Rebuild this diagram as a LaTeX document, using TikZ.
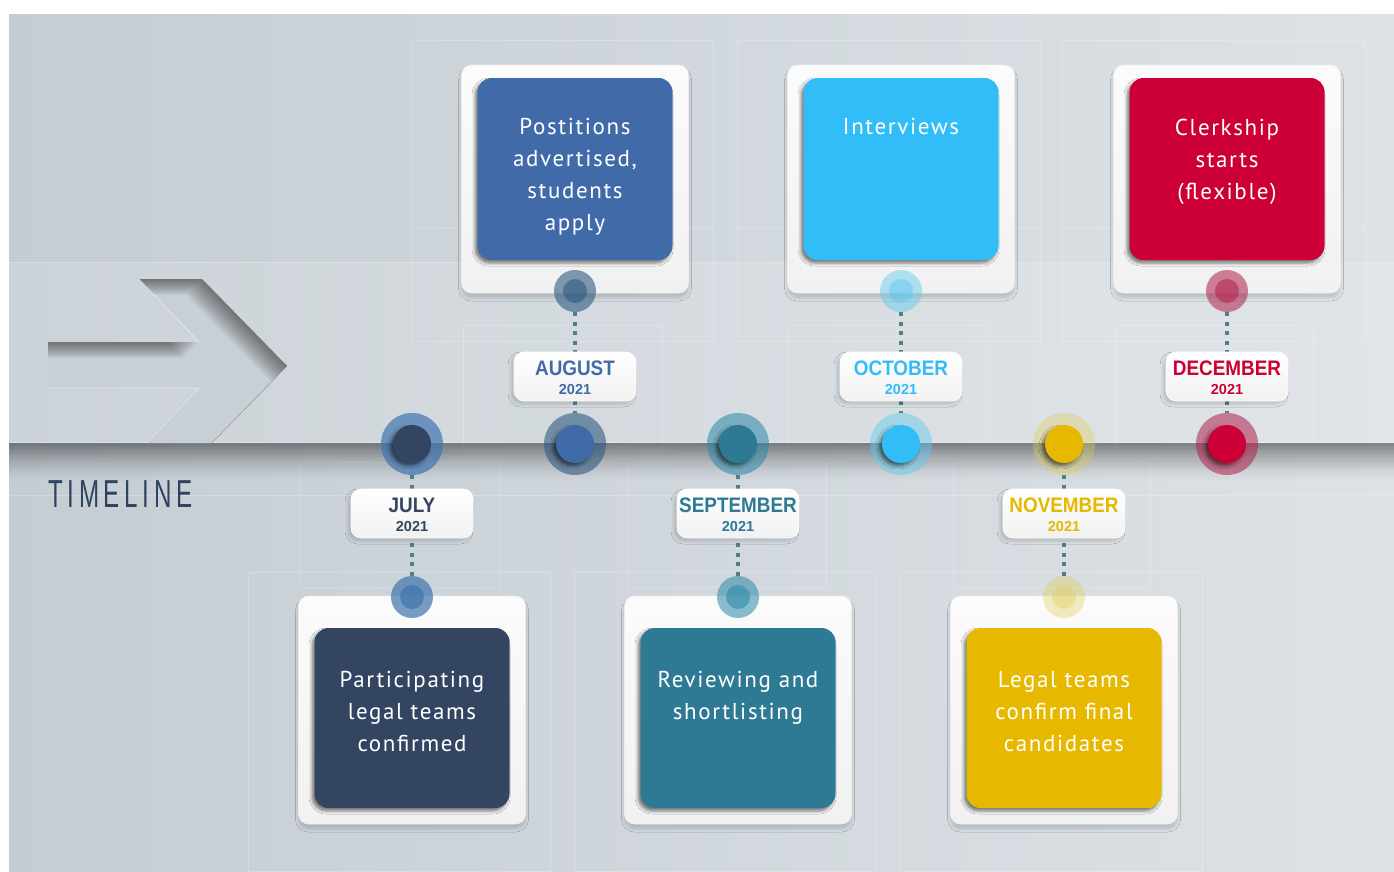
\documentclass[tikz,border=0pt]{standalone}
\usepackage{fontspec}
\setmainfont{PT Sans}
\newfontfamily\cardfont[LetterSpace=7]{PT Sans}
\newfontfamily\monfont[FakeStretch=0.9]{Liberation Sans}
\newfontfamily\yrfont{Liberation Sans}
\newfontfamily\tlfont[FakeStretch=0.62,LetterSpace=12]{Liberation Sans}
\usetikzlibrary{shadows,shadows.blur}
\definecolor{cnavy}{HTML}{334561}
\definecolor{cblue}{HTML}{416BA8}
\definecolor{cteal}{HTML}{2E7A94}
\definecolor{csky}{HTML}{33BDF8}
\definecolor{cyel}{HTML}{E6B800}
\definecolor{cred}{HTML}{CC0036}
\definecolor{rnavy}{HTML}{3F75AE}
\definecolor{rblue}{HTML}{305A80}
\definecolor{rteal}{HTML}{2B88A8}
\definecolor{rsky}{HTML}{5CC8EE}
\definecolor{ryel}{HTML}{E0CC50}
\definecolor{rred}{HTML}{B0204A}
\definecolor{cdot}{HTML}{4F8086}
\definecolor{bgl}{HTML}{C5CDD3}
\definecolor{bgr}{HTML}{DDE2E6}
\definecolor{tlcol}{HTML}{2F4361}
\definecolor{arrfill}{HTML}{C8CFD5}
\tikzset{
  outer/.style={rectangle, rounded corners=10pt, minimum width=227pt, minimum height=228pt, inner sep=0pt,
    top color=white!97!gray, bottom color=white!89!gray, draw=white!86!gray, line width=0.6pt,
    blur shadow={shadow xshift=0pt, shadow yshift=-5pt, shadow blur radius=3pt, shadow opacity=14}},
  innerbox/.style={rectangle, rounded corners=14pt, minimum width=195pt, inner sep=0pt,
    blur shadow={shadow xshift=-2.5pt, shadow yshift=-3pt, shadow blur radius=3pt, shadow opacity=50}},
  cardtxt/.style={anchor=north, align=center, inner sep=0pt, text=white, font=\cardfont\fontsize{23}{32}\selectfont},
  lab/.style={rectangle, rounded corners=10pt, minimum width=122pt, minimum height=49pt, inner sep=0pt,
    top color=white, bottom color=white!89!gray, draw=white, line width=0.6pt,
    blur shadow={shadow xshift=-3pt, shadow yshift=-3pt, shadow blur radius=3pt, shadow opacity=16}},
  dotl/.style={draw=cdot, line width=4pt, dash pattern=on 4pt off 5.5pt},
  guide/.style={draw=white, draw opacity=0.22, line width=0.8pt},
  ringnode/.style={circle, inner sep=0pt},
}
\def\topset{\def\cy{179}\def\iy{169}\def\ih{182}\def\sy{291}\def\ly{376.5}\def\ty{118.5}}
\def\botset{\def\cy{710}\def\iy{718}\def\ih{180}\def\sy{597}\def\ly{513.5}\def\ty{671.5}}
% connectors first, between invisible placeholder nodes of the same sizes
\newcommand\mlinks[2]{%
  \path node[ringnode, minimum size=42pt] (#1sp) at (#2,\sy) {}
        node[rectangle, minimum width=122pt, minimum height=49pt, inner sep=0pt] (#1lp) at (#2,\ly) {}
        node[ringnode, minimum size=62pt] (#1ap) at (#2,444) {};
  \draw[dotl] (#1sp) -- (#1lp);
  \draw[dotl] (#1lp) -- (#1ap);
}
\newcommand\mstone[7]{%
  \node[outer] (#1o) at (#2,\cy) {};
  \node[innerbox, fill=#3, minimum height=\ih pt] (#1i) at (#2,\iy) {};
  \node[cardtxt] (#1t) at (#2,\ty) {#7};
  \node[ringnode, minimum size=42pt, fill=#4, fill opacity=#5] (#1s) at (#2,\sy) {};
  \node[ringnode, minimum size=24pt, fill=#4, fill opacity=#5] (#1ss) at (#2,\sy) {};
  \node[lab] (#1l) at (#2,\ly) {};
  \node[anchor=base, inner sep=0pt, text=#3, font=\monfont\bfseries\fontsize{21}{21}\selectfont] (#1m) at (#2,\ly-1.5) {#6};
  \node[anchor=base, inner sep=0pt, text=#3, font=\yrfont\bfseries\fontsize{14.5}{14.5}\selectfont] (#1y) at (#2,\ly+17.5) {2021};
  \node[ringnode, minimum size=62pt, fill=#4, fill opacity=#5] (#1a) at (#2,444) {};
  \node[ringnode, minimum size=38pt, fill=#3,
    blur shadow={shadow xshift=-3pt, shadow yshift=-3pt, shadow blur radius=3pt, shadow opacity=50}] (#1c) at (#2,444) {};
}
\def\arrowpath{(48,342) -- (199,342) -- (139,279) -- (202,279) -- (287,366) -- (212,443) -- (147,443) -- (199,388) -- (48,388) -- cycle}
\begin{document}
\begin{tikzpicture}[x=1pt,y=-1pt]
\useasboundingbox (0,0) rectangle (1394,871);
\fill[white] (0,0) rectangle (1394,871);
\shade[left color=bgl, right color=bgr] (9,14) rectangle (1394,871);
% faint guide lines
\draw[guide] (9,262) -- (1394,262);
\draw[guide] (411,40) rectangle (713,341);
\draw[guide] (737,40) rectangle (1040,341);
\draw[guide] (1062,40) rectangle (1365,341);
\draw[guide] (411,227) -- (713,227);
\draw[guide] (737,227) -- (1040,227);
\draw[guide] (1062,227) -- (1365,227);
\draw[guide] (463,325) rectangle (662,450);
\draw[guide] (787,325) rectangle (986,450);
\draw[guide] (1115,325) rectangle (1313,450);
\draw[guide] (300,462) rectangle (500,587);
\draw[guide] (627,462) rectangle (826,587);
\draw[guide] (953,462) rectangle (1150,587);
\draw[guide] (248,572) rectangle (550,871);
\draw[guide] (574,572) rectangle (876,871);
\draw[guide] (900,572) rectangle (1202,871);
\draw[guide] (9,495) -- (1394,495);
% axis step and shadow
\fill[white, opacity=0.12] (9,262) rectangle (1394,443);
\foreach \k in {0,...,19} {
  \pgfmathsetmacro\op{0.045*(1-\k/20)}
  \fill[black, opacity=\op] (9,443) rectangle (1394,443+2*\k+2);
}
\draw[white, opacity=0.35, line width=0.8pt] (9,442.5) -- (1394,442.5);
% recessed arrow
\fill[arrfill] \arrowpath;
\begin{scope}
  \clip \arrowpath;
  \foreach \d in {1,...,16} {
    \fill[black, opacity=0.032, even odd rule, shift={(-\d,\d)}] (-300,-300) rectangle (700,900) \arrowpath;
  }
\end{scope}
\draw[white, opacity=0.45, line width=0.8pt] (48,388) -- (199,388) -- (147,443);
\draw[white, opacity=0.45, line width=0.8pt] (139,279) -- (199,342);
\node[anchor=base west, inner sep=0pt, text=tlcol, font=\tlfont\fontsize{39}{39}\selectfont] (tl) at (48,507) {TIMELINE};
% connectors
\botset \mlinks{jul}{412}
\topset \mlinks{aug}{575}
\botset \mlinks{sep}{738}
\topset \mlinks{oct}{901}
\botset \mlinks{nov}{1064}
\topset \mlinks{dec}{1227}
% milestones
\botset
\mstone{jul}{412}{cnavy}{rnavy}{0.7}{JULY}{Participating\\legal teams\\confirmed}
\topset
\mstone{aug}{575}{cblue}{rblue}{0.6}{AUGUST}{Postitions\\advertised,\\students\\apply}
\botset
\mstone{sep}{738}{cteal}{rteal}{0.55}{SEPTEMBER}{Reviewing and\\shortlisting}
\topset
\mstone{oct}{901}{csky}{rsky}{0.45}{OCTOBER}{Interviews}
\botset
\mstone{nov}{1064}{cyel}{ryel}{0.35}{NOVEMBER}{Legal teams\\confirm final\\candidates}
\topset
\mstone{dec}{1227}{cred}{rred}{0.55}{DECEMBER}{Clerkship\\starts\\(flexible)}
\end{tikzpicture}
\end{document}
